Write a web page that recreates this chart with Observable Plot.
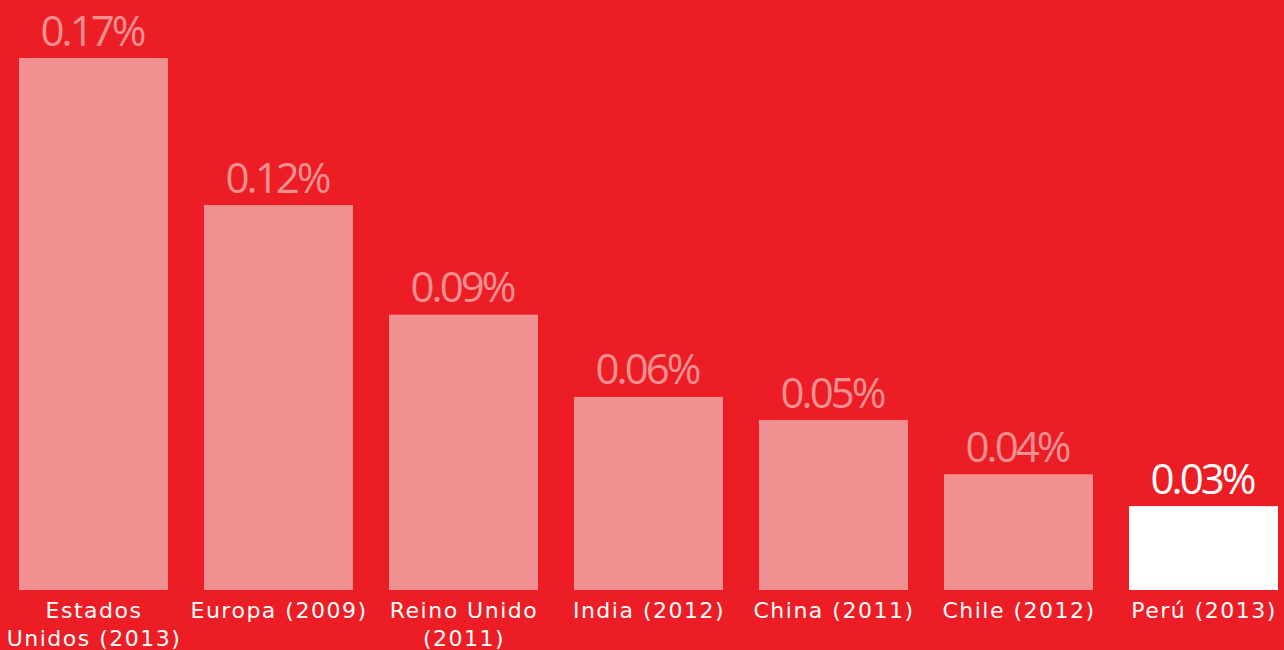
<!DOCTYPE html>
<html>
<head>
<meta charset="utf-8">
<script src="https://cdn.jsdelivr.net/npm/d3@7"></script>
<script src="https://cdn.jsdelivr.net/npm/@observablehq/plot@0.6"></script>
<style>
  html, body { margin: 0; padding: 0; background: #ED1D25; }
  #chart svg { display: block; }
</style>
</head>
<body>
<div id="chart"></div>
<script>
const categories = ["Estados\nUnidos (2013)", "Europa (2009)", "Reino Unido\n(2011)", "India (2012)", "China (2011)", "Chile (2012)", "Perú (2013)"];
const values = [0.170, 0.123, 0.088, 0.0617, 0.0543, 0.037, 0.0268];
const valueLabels = ["0.17%", "0.12%", "0.09%", "0.06%", "0.05%", "0.04%", "0.03%"];
const highlight = [false, false, false, false, false, false, true];

const data = categories.map((c, i) => ({category: c, value: values[i], label: valueLabels[i], hi: highlight[i]}));

const PINK = "#F09091";
const RED = "#ED1D25";

const chart = Plot.plot({
  width: 1284,
  height: 650,
  marginTop: 58,
  marginBottom: 60,
  marginLeft: 18,
  marginRight: 6,
  style: {background: RED, fontFamily: "'Open Sans', sans-serif"},
  x: {domain: categories, paddingInner: 0.195, paddingOuter: 0, axis: null},
  y: {domain: [0, 0.17], axis: null},
  marks: [
    Plot.barY(data, {x: "category", y: "value", fill: d => d.hi ? "#FFFFFF" : PINK}),
    Plot.text(data, {x: "category", y: "value", text: "label", dy: -13, dx: -2, lineAnchor: "bottom",
      fill: d => d.hi ? "#FFFFFF" : PINK, fontSize: 42, fontWeight: 500,
      fontFamily: "'Open Sans', sans-serif"}),
    Plot.text(data, {x: "category", y: () => 0, text: "category", dy: 8, lineAnchor: "top",
      fill: "#FFFFFF", fontSize: 22, lineHeight: 1.26, fontFamily: "'DejaVu Sans', sans-serif"})
  ]
});
const groups = chart.querySelectorAll("g[aria-label='text']");
groups[0].setAttribute("letter-spacing", "-3");
groups[1].setAttribute("letter-spacing", "1.5");
document.getElementById("chart").appendChild(chart);
</script>
</body>
</html>
